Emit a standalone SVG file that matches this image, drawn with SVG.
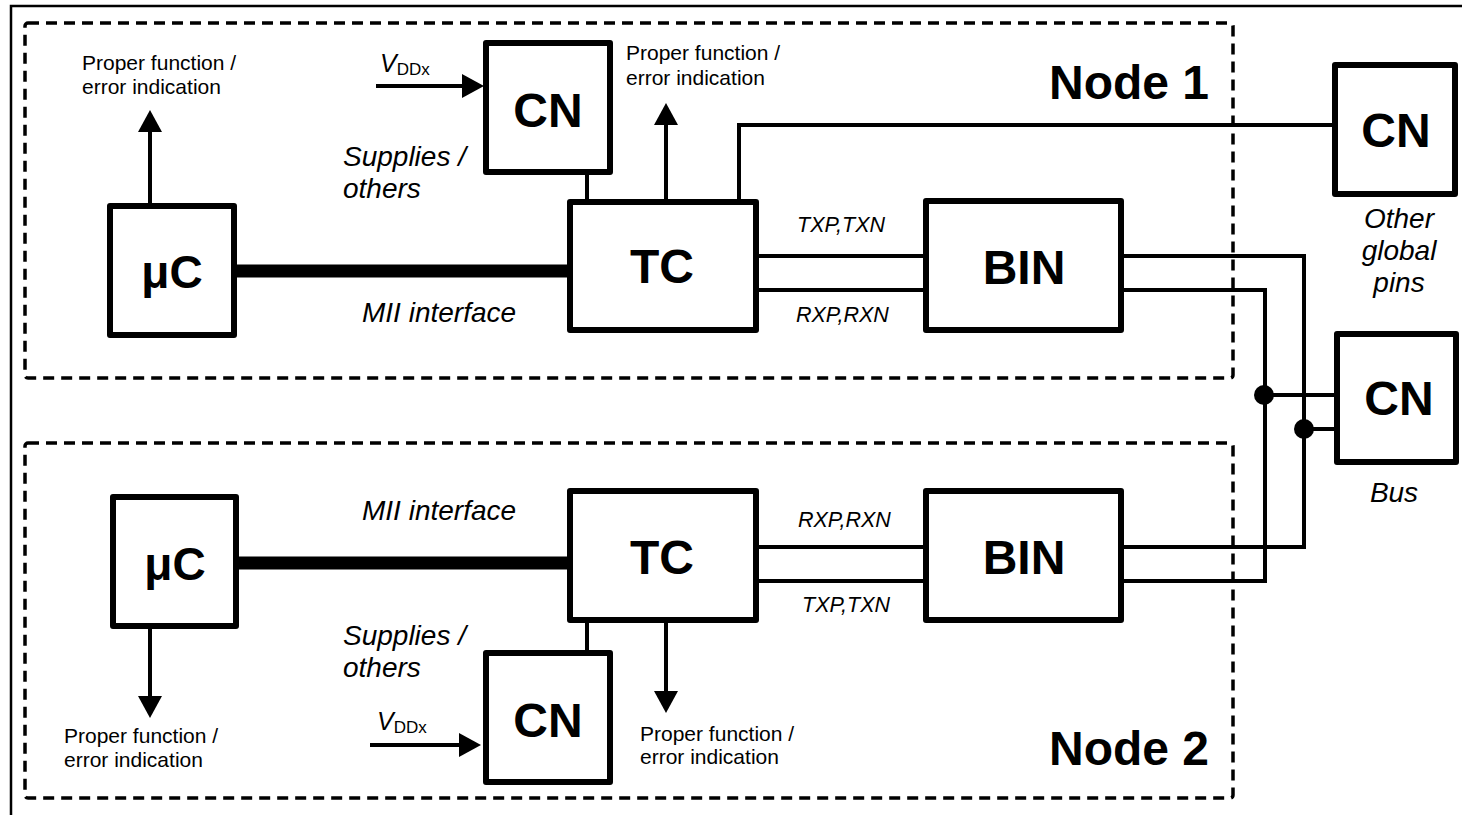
<svg xmlns="http://www.w3.org/2000/svg" width="1462" height="815" viewBox="0 0 1462 815">
<style>
.box{fill:#fff;stroke:#000;stroke-width:6;stroke-linejoin:round}
.lbl{font-family:"Liberation Sans",Arial,sans-serif;font-weight:bold;font-size:48px;text-anchor:middle;fill:#000}
.sm{font-family:"Liberation Sans",Arial,sans-serif;font-size:21px;fill:#000}
.it{font-family:"Liberation Sans",Arial,sans-serif;font-style:italic;font-size:28px;fill:#000}
.sig{font-family:"Liberation Sans",Arial,sans-serif;font-style:italic;font-size:21.5px;fill:#000}
.ln{fill:none;stroke:#000;stroke-width:4}
.dash{fill:none;stroke:#000;stroke-width:3.5;stroke-dasharray:11 7}
</style>
<defs>
<marker id="ah" viewBox="0 0 22 24" refX="0" refY="12" markerWidth="22" markerHeight="24" markerUnits="userSpaceOnUse" orient="auto">
<path d="M0 0 L22 12 L0 24 Z" fill="#000"/>
</marker>
</defs>
<rect width="1462" height="815" fill="#fff"/>
<path d="M11 815 V6 H1462" fill="none" stroke="#000" stroke-width="2.5"/>
<rect class="dash" x="25" y="23" width="1208" height="355" rx="3"/>
<rect class="dash" x="25" y="443" width="1208" height="355" rx="3"/>
<text class="lbl" x="1049" y="99" style="text-anchor:start">Node 1</text>
<text class="lbl" x="1049" y="765" style="text-anchor:start">Node 2</text>

<g id="connectors">
<line class="ln" x1="234" y1="271" x2="570" y2="271" style="stroke-width:13"/>
<line class="ln" x1="236" y1="563" x2="570" y2="563" style="stroke-width:13"/>
<line class="ln" x1="150" y1="206" x2="150" y2="132" marker-end="url(#ah)"/>
<line class="ln" x1="666" y1="202" x2="666" y2="125" marker-end="url(#ah)"/>
<line class="ln" x1="376" y1="86" x2="462" y2="86" marker-end="url(#ah)"/>
<line class="ln" x1="587" y1="172" x2="587" y2="202"/>
<path class="ln" d="M739 202 V125 H1335"/>
<line class="ln" x1="756" y1="256" x2="926" y2="256"/>
<line class="ln" x1="756" y1="290" x2="926" y2="290"/>
<path class="ln" d="M1121 256 H1304 V547 H1121"/>
<path class="ln" d="M1121 290 H1265 V581 H1121"/>
<line class="ln" x1="1265" y1="395" x2="1337" y2="395"/>
<line class="ln" x1="1304" y1="429" x2="1337" y2="429"/>
<circle cx="1264" cy="395" r="10" fill="#000"/>
<circle cx="1304" cy="429" r="10" fill="#000"/>
<line class="ln" x1="756" y1="547" x2="926" y2="547"/>
<line class="ln" x1="756" y1="581" x2="926" y2="581"/>
<line class="ln" x1="150" y1="626" x2="150" y2="696" marker-end="url(#ah)"/>
<line class="ln" x1="666" y1="620" x2="666" y2="691" marker-end="url(#ah)"/>
<line class="ln" x1="587" y1="620" x2="587" y2="653"/>
<line class="ln" x1="370" y1="745" x2="459" y2="745" marker-end="url(#ah)"/>
</g>

<g id="n1-uc"><rect class="box" x="110" y="206" width="124" height="129"/><text class="lbl" x="172" y="288" style="font-size:46px">μC</text></g>
<g id="n1-cn"><rect class="box" x="486" y="43" width="124" height="129"/><text class="lbl" x="548" y="127">CN</text></g>
<g id="n1-tc"><rect class="box" x="570" y="202" width="186" height="128"/><text class="lbl" x="662" y="283">TC</text></g>
<g id="n1-bin"><rect class="box" x="926" y="201" width="195" height="129"/><text class="lbl" x="1024" y="284">BIN</text></g>
<g id="cn-global"><rect class="box" x="1335" y="65" width="120" height="129"/><text class="lbl" x="1396" y="147">CN</text></g>
<g id="cn-bus"><rect class="box" x="1337" y="334" width="119" height="128"/><text class="lbl" x="1399" y="415">CN</text></g>
<g id="n2-uc"><rect class="box" x="113" y="497" width="123" height="129"/><text class="lbl" x="175" y="580" style="font-size:46px">μC</text></g>
<g id="n2-cn"><rect class="box" x="486" y="653" width="124" height="129"/><text class="lbl" x="548" y="737">CN</text></g>
<g id="n2-tc"><rect class="box" x="570" y="491" width="186" height="129"/><text class="lbl" x="662" y="574">TC</text></g>
<g id="n2-bin"><rect class="box" x="926" y="491" width="195" height="129"/><text class="lbl" x="1024" y="574">BIN</text></g>

<g id="labels">
<text class="sm" x="82" y="70">Proper function /</text>
<text class="sm" x="82" y="94">error indication</text>
<text class="sm" x="626" y="60">Proper function /</text>
<text class="sm" x="626" y="85">error indication</text>
<text class="sm" x="64" y="743">Proper function /</text>
<text class="sm" x="64" y="767">error indication</text>
<text class="sm" x="640" y="741">Proper function /</text>
<text class="sm" x="640" y="764">error indication</text>
<text x="380" y="72" style="font-family:'Liberation Sans',Arial,sans-serif;font-size:25px;font-style:italic">V<tspan style="font-style:normal;font-size:17px" dy="3">DDx</tspan></text>
<text x="377" y="730" style="font-family:'Liberation Sans',Arial,sans-serif;font-size:25px;font-style:italic">V<tspan style="font-style:normal;font-size:17px" dy="3">DDx</tspan></text>
<text class="it" x="343" y="166">Supplies /</text>
<text class="it" x="343" y="198">others</text>
<text class="it" x="343" y="645">Supplies /</text>
<text class="it" x="343" y="677">others</text>
<text class="it" x="362" y="322">MII interface</text>
<text class="it" x="362" y="520">MII interface</text>
<text class="sig" x="797" y="232">TXP,TXN</text>
<text class="sig" x="796" y="322">RXP,RXN</text>
<text class="sig" x="798" y="527">RXP,RXN</text>
<text class="sig" x="802" y="612">TXP,TXN</text>
<text class="it" x="1399" y="228" text-anchor="middle">Other</text>
<text class="it" x="1399" y="260" text-anchor="middle">global</text>
<text class="it" x="1399" y="292" text-anchor="middle">pins</text>
<text class="it" x="1394" y="502" text-anchor="middle">Bus</text>
</g>
</svg>
